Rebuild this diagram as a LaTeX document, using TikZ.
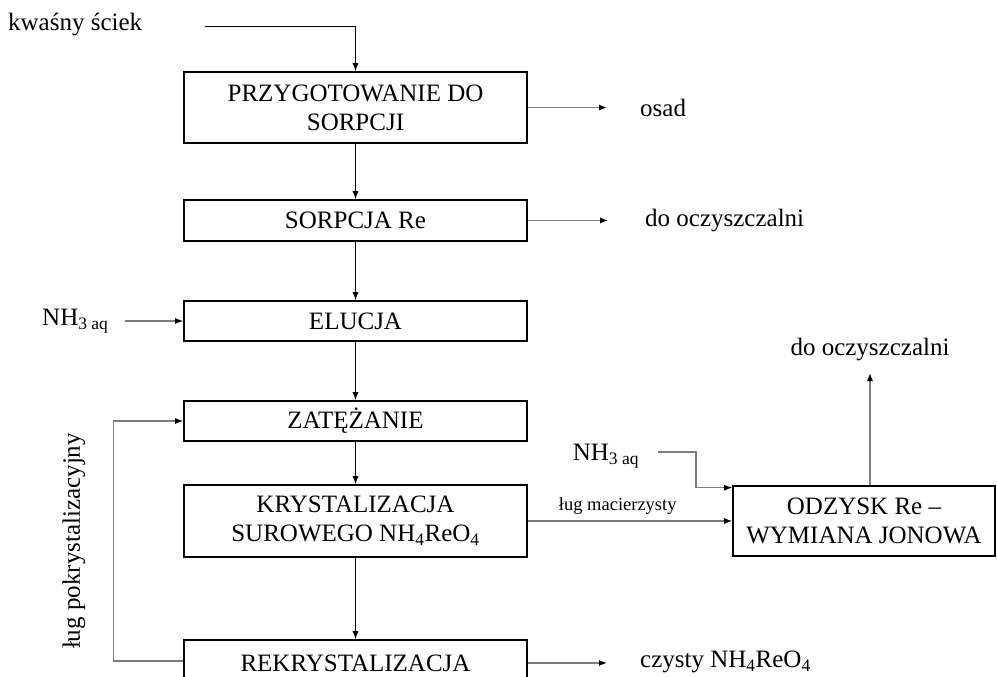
\documentclass[tikz,border=0pt]{standalone}
\usepackage{fontspec}
\setmainfont{Liberation Serif}
\usetikzlibrary{arrows.meta}
\definecolor{flowgray}{RGB}{125,125,125}
\begin{document}
\begin{tikzpicture}[x=1pt,y=-1pt,
  txt/.style={font=\fontsize{25}{29}\selectfont, inner sep=0pt, align=center},
  smalltxt/.style={font=\fontsize{18.5}{22}\selectfont, inner sep=0pt},
  proc/.style={txt, draw=black, line width=1.6pt, minimum width=343pt},
  tip/.style={-{Latex[length=8pt,width=6pt,color=black]}},
  darr/.style={tip, draw=black, line width=0.9pt},
  garr/.style={tip, draw=flowgray, line width=1.2pt}]
\useasboundingbox (0,0) rectangle (997,677);

% process column
\node[proc, minimum height=71pt] (prep) at (355.5,107.5) {PRZYGOTOWANIE DO\\SORPCJI};
\node[proc, minimum height=41pt] (sorp) at (355.5,220.5) {SORPCJA Re};
\node[proc, minimum height=40pt] (eluc) at (355.5,321) {ELUCJA};
\node[proc, minimum height=40pt] (zat)  at (355.5,421) {ZATĘŻANIE};
\node[proc, minimum height=72pt] (kryst) at (355.5,521) {KRYSTALIZACJA\\SUROWEGO NH\textsubscript{4}ReO\textsubscript{4}};
\node[proc, minimum height=46pt] (rekr) at (355.5,663) {REKRYSTALIZACJA};
\node[txt, draw=black, line width=1.6pt, minimum width=262pt, minimum height=70pt] (odz) at (864,521) {ODZYSK Re –\\WYMIANA JONOWA};

% inputs and outputs
\node[txt, anchor=west] (scieklbl) at (8,25) {kwaśny ściek};
\coordinate (sciek) at (205,26);
\node[txt, anchor=west] (osad) at (640,108) {osad};
\coordinate (osadend) at (607,107.5);
\node[txt, anchor=west] (oczy1) at (645,221) {do oczyszczalni};
\coordinate (oczy1end) at (608,220.5);
\node[txt, anchor=west] (nh3a) at (42,321) {NH\textsubscript{3 aq}};
\coordinate (nh3astart) at (125,321);
\node[txt] (nh3b) at (606,456) {NH\textsubscript{3 aq}};
\coordinate (nh3bstart) at (658,452);
\node[txt] (oczy2) at (870,350) {do oczyszczalni};
\coordinate (oczy2end) at (870,373);
\node[txt, anchor=west] (czysty) at (640,662) {czysty NH\textsubscript{4}ReO\textsubscript{4}};
\coordinate (czystyend) at (607,663);
\node[txt, rotate=90] (pokryst) at (74,541) {ług pokrystalizacyjny};

% main flow
\draw[darr] (sciek) -| (prep.north);
\draw[darr] (prep) -- (sorp);
\draw[darr] (sorp) -- (eluc);
\draw[darr] (eluc) -- (zat);
\draw[darr] (zat) -- (kryst);
\draw[darr] (kryst) -- (rekr);

% side streams
\draw[garr] (prep.east) -- (osadend);
\draw[garr] (sorp.east) -- (oczy1end);
\draw[garr] (nh3astart) -- (eluc.west);
\draw[garr] (kryst.east) -- node[smalltxt, pos=0.44, above=6pt] {ług macierzysty} (odz.west);
\draw[garr] (nh3bstart) -- ++(38,0) |- ([yshift=-2.5pt]odz.north west);
\draw[garr] ([xshift=6pt]odz.north) -- (oczy2end);
\draw[garr] (rekr.east) -- (czystyend);
\draw[garr] ([yshift=2pt]rekr.west) -- ++(-70,0) |- (zat.west);
\end{tikzpicture}
\end{document}
